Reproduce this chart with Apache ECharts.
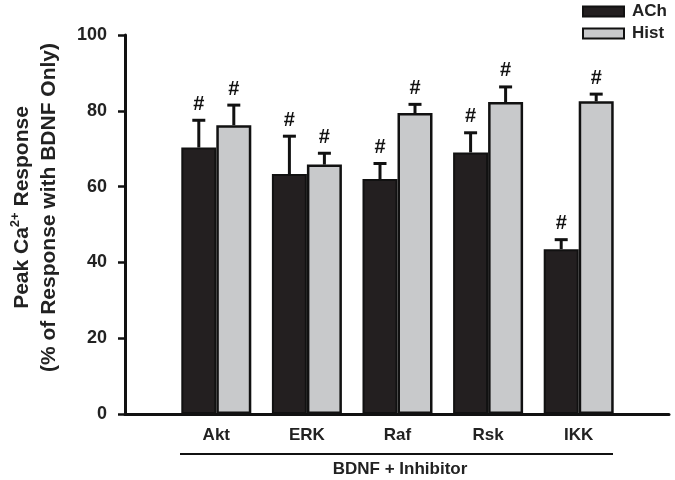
<!DOCTYPE html>
<html>
<head>
<meta charset="utf-8">
<script src="https://cdn.jsdelivr.net/npm/echarts@6/dist/echarts.min.js"></script>
<style>html,body{margin:0;padding:0;background:#fff;}#c{width:675px;height:480px;}</style>
</head>
<body>
<div id="c"></div>
<script>
var categories = ['Akt', 'ERK', 'Raf', 'Rsk', 'IKK'];
var achMean = [70.3, 63.3, 62.0, 69.0, 43.5];
var achErr  = [7.2, 10.0, 4.1, 5.2, 2.5];
var histMean = [76.2, 65.8, 79.4, 82.3, 82.5];
var histErr  = [5.3, 3.0, 2.3, 4.0, 1.9];
var yTicks = [0, 20, 40, 60, 80, 100];
var seriesNames = ['ACh', 'Hist'];

var FONT = 'Liberation Sans, Arial, sans-serif';
var BAR_W = 35;

function errData(mean, err) {
  return mean.map(function (m, i) { return [i, m, m + err[i]]; });
}

function errSeries(name, mean, err, offset) {
  return {
    type: 'custom',
    name: name + ' err',
    xAxisIndex: 1, yAxisIndex: 1,
    z: 5,
    data: errData(mean, err),
    renderItem: function (params, api) {
      var top = api.coord([api.value(0), api.value(1)]);
      var hi = api.coord([api.value(0), api.value(2)]);
      var x = top[0] + offset;
      return {
        type: 'group',
        children: [
          { type: 'line', shape: { x1: x, y1: top[1], x2: x, y2: hi[1] }, style: { stroke: '#111', lineWidth: 3 } },
          { type: 'line', shape: { x1: x - 6.5, y1: hi[1], x2: x + 6.5, y2: hi[1] }, style: { stroke: '#111', lineWidth: 3 } },
          { type: 'text', x: x, y: hi[1] - 6, style: { text: '#', fill: '#111', font: 'bold 20px Liberation Sans, Arial, sans-serif', textAlign: 'center', textVerticalAlign: 'bottom' } }
        ]
      };
    }
  };
}

var chart = echarts.init(document.getElementById('c'), null, { renderer: 'canvas' });
chart.setOption({
  animation: false,
  backgroundColor: '#fff',
  grid: [
    { left: 125, right: 6, top: 35, bottom: 66, containLabel: false, outerBoundsMode: 'none' },
    { left: 171, width: 453, top: 35, bottom: 66, containLabel: false, outerBoundsMode: 'none' }
  ],
  legend: {
    data: seriesNames,
    orient: 'vertical',
    left: 582, top: 3, padding: 0,
    itemWidth: 41, itemHeight: 10, itemGap: 5,
    icon: 'rect',
    textStyle: { fontFamily: FONT, fontWeight: 'bold', fontSize: 17, color: '#222', padding: [0, 0, 0, 3] }
  },
  xAxis: [
    { type: 'value', gridIndex: 0, min: 0, max: 1, axisLabel: { show: false }, axisTick: { show: false }, splitLine: { show: false },
      axisLine: { lineStyle: { color: '#111', width: 3 } } },
    { type: 'category', gridIndex: 1, data: categories, axisLine: { show: false }, axisTick: { show: false },
      axisLabel: { margin: 13, fontFamily: FONT, fontWeight: 'bold', fontSize: 17, color: '#222' } }
  ],
  yAxis: [
    { type: 'value', gridIndex: 0, min: 0, max: 100, interval: 20, splitLine: { show: false },
      axisLine: { show: true, lineStyle: { color: '#111', width: 3 } },
      axisTick: { show: true, inside: false, length: 7, lineStyle: { color: '#111', width: 2.5 } },
      axisLabel: { margin: 18, fontFamily: FONT, fontWeight: 'bold', fontSize: 18, color: '#222',
        formatter: function (v) { return yTicks.indexOf(v) >= 0 ? String(v) : ''; } },
      name: '{a|Peak Ca}{s|2+}{a| Response}\n{a|(% of Response with BDNF Only)}',
      nameLocation: 'middle', nameGap: 62, nameRotate: 90, nameMoveOverlap: false,
      nameTextStyle: {
        lineHeight: 27,
        padding: [0, 0, 0, 34],
        rich: {
          a: { fontFamily: FONT, fontWeight: 'bold', fontSize: 21, color: '#222', lineHeight: 27 },
          s: { fontFamily: FONT, fontWeight: 'bold', fontSize: 13, color: '#222', verticalAlign: 'top', lineHeight: 27, padding: [0, 0, 8, 0] }
        }
      }
    },
    { type: 'value', gridIndex: 1, min: 0, max: 100, show: false }
  ],
  series: [
    { name: 'ACh', type: 'bar', xAxisIndex: 1, yAxisIndex: 1, data: achMean, barWidth: BAR_W, barGap: '0%',
      itemStyle: { color: '#231f20', borderColor: '#111', borderWidth: 2 } },
    { name: 'Hist', type: 'bar', xAxisIndex: 1, yAxisIndex: 1, data: histMean, barWidth: BAR_W, barGap: '0%',
      itemStyle: { color: '#c8c9cb', borderColor: '#111', borderWidth: 2.5 } },
    errSeries('ACh', achMean, achErr, -BAR_W / 2),
    errSeries('Hist', histMean, histErr, BAR_W / 2)
  ],
  graphic: [
    { type: 'line', shape: { x1: 180, y1: 454, x2: 613, y2: 454 }, style: { stroke: '#111', lineWidth: 2 } },
    { type: 'text', x: 400, y: 469, style: { text: 'BDNF + Inhibitor', font: 'bold 17px Liberation Sans, Arial, sans-serif', fill: '#222', textAlign: 'center', textVerticalAlign: 'middle' } }
  ]
});
</script>
</body>
</html>
